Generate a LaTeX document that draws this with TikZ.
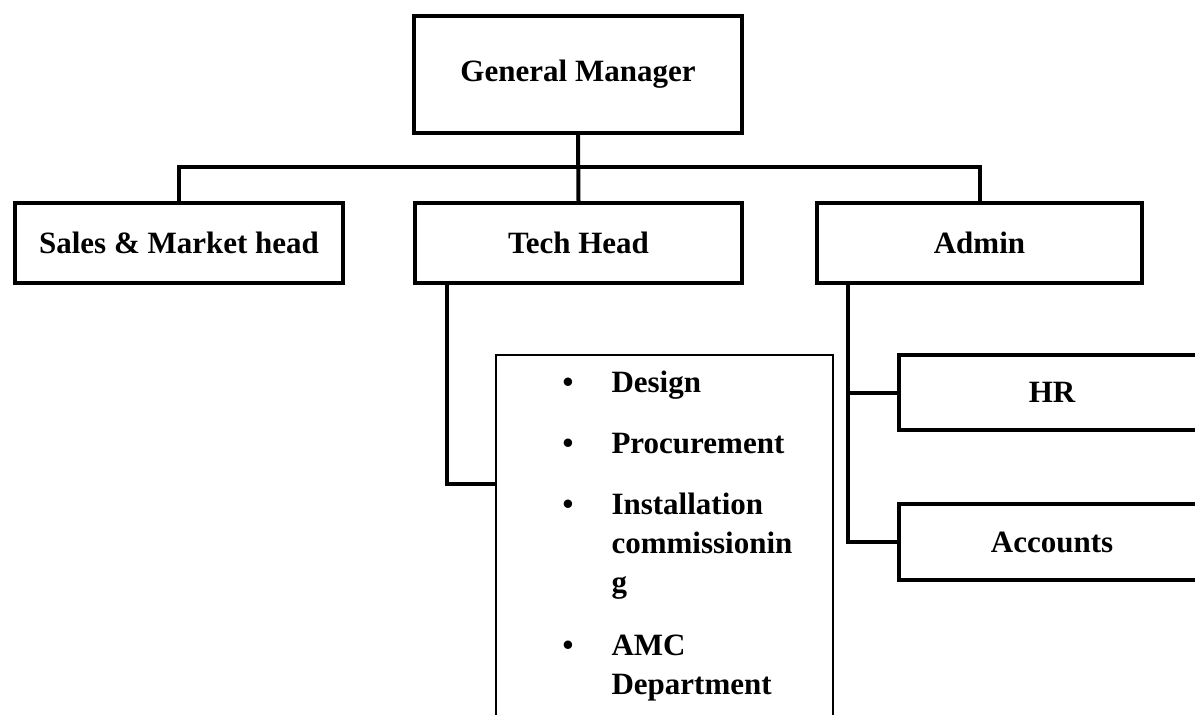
\documentclass[tikz,border=0pt]{standalone}
\usepackage{fontspec}
\setmainfont{Liberation Serif}
\usepackage{tikz}
\usetikzlibrary{positioning,calc}
\definecolor{ink}{HTML}{000000}

\begin{document}
\begin{tikzpicture}[x=1pt,y=-1pt,
    box/.style={draw=ink,line width=4pt,inner sep=0pt,font=\bfseries\fontsize{31}{39}\selectfont},
    listbox/.style={draw=ink,line width=2pt,inner sep=0pt},
    link/.style={draw=ink,line width=4pt}]
  \useasboundingbox (0,0) rectangle (1195,715);
  \clip (0,0) rectangle (1195,715);

  % top level
  \node[box,minimum width=328pt,minimum height=117pt] (gm) at (578,74.5) {General Manager};

  % second level
  \node[box,minimum width=328pt,minimum height=80pt] (sales) at (179,243) {Sales \& Market head};
  \node[box,minimum width=327pt,minimum height=80pt] (tech) at (578.5,243) {Tech Head};
  \node[box,minimum width=325pt,minimum height=80pt] (admin) at (979.5,243) {Admin};

  % admin children (run off the right edge)
  \node[box,minimum width=306pt,minimum height=75pt] (hr) at (1052,392.5) {HR};
  \node[box,minimum width=306pt,minimum height=76pt] (accounts) at (1052,542) {Accounts};

  % tech departments
  \node[listbox,anchor=north west,minimum width=337pt,minimum height=420pt] (techlist) at (495,354) {};
  \node[anchor=base west,inner sep=0pt,font=\bfseries\fontsize{31}{39}\selectfont] (techitems) at (562.5,392)
    {\begin{tabular}[t]{@{}l@{\hspace{38pt}}l@{}}
      \textbullet & Design\\[22pt]
      \textbullet & Procurement\\[22pt]
      \textbullet & Installation\\
                  & commissionin\\
                  & g\\[24pt]
      \textbullet & AMC\\
                  & Department
    \end{tabular}};

  % connectors
  \coordinate (bus) at (578,167);
  \draw[link] (gm.south) -- (tech.north);
  \draw[link] (sales.north) |- (bus) -| (admin.north);

  \coordinate (techstem) at ([xshift=-131.5pt]tech.south);
  \draw[link] (techstem) |- (techlist.west |- 0,484);

  \coordinate (adminstem) at ([xshift=-131.5pt]admin.south);
  \draw[link] (adminstem) |- (accounts.west);
  \draw[link] (adminstem |- hr.west) -- (hr.west);
\end{tikzpicture}
\end{document}
